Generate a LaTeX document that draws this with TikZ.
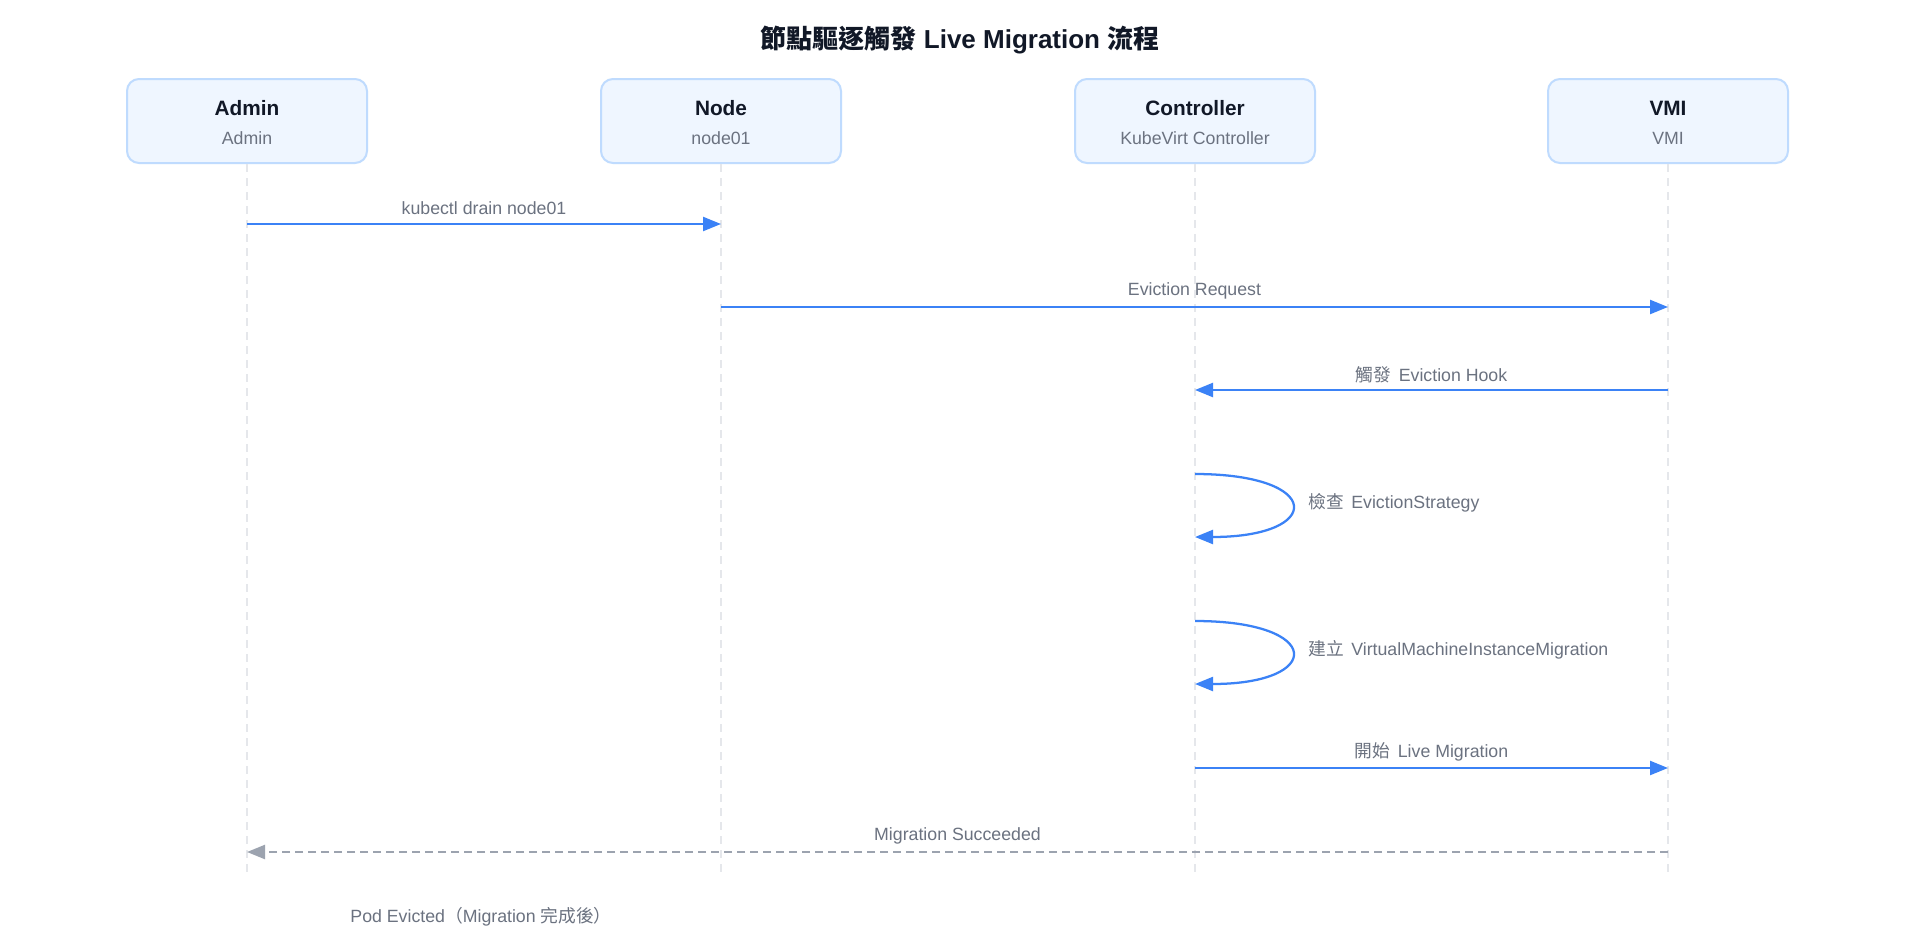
\documentclass[tikz,border=0pt]{standalone}
\usepackage{fontspec}
\setmainfont{Liberation Sans}
\newfontfamily\cjk{Noto Sans CJK TC}
\usetikzlibrary{arrows.meta}
\definecolor{boxfill}{HTML}{EFF6FF}
\definecolor{boxline}{HTML}{BFDBFE}
\definecolor{ink}{HTML}{111827}
\definecolor{muted}{HTML}{6B7280}
\definecolor{msgblue}{HTML}{3B82F6}
\definecolor{lifegray}{HTML}{E5E7EB}
\definecolor{retgray}{HTML}{9CA3AF}
\newcommand{\cjksp}{\hspace{2pt}}
\tikzset{
  participant/.style={draw=boxline, fill=boxfill, line width=1.5pt, rounded corners=9pt,
    minimum width=180pt, minimum height=63pt, inner sep=0pt},
  pname/.style={font=\fontsize{15.6pt}{18pt}\selectfont\bfseries, text=ink, inner sep=0pt},
  psub/.style={font=\fontsize{13.3pt}{15pt}\selectfont, text=muted, inner sep=0pt},
  lifeline/.style={draw=lifegray, line width=1.5pt, dash pattern=on 6pt off 4.5pt},
  msgarrow/.style={draw=msgblue, line width=1.7pt, -{Triangle[length=13.5pt,width=10.5pt]}},
  retarrow/.style={draw=retgray, line width=1.7pt, dash pattern=on 6pt off 3.75pt,
    -{Triangle[length=13.5pt,width=10.5pt]}},
  msglabel/.style={font=\fontsize{13.3pt}{15pt}\selectfont, text=muted, inner sep=0pt},
  titletext/.style={font=\fontsize{19.5pt}{23pt}\selectfont\bfseries, text=ink, inner sep=0pt}
}
\begin{document}
\begin{tikzpicture}[x=0.75pt,y=-0.75pt]
\useasboundingbox[fill=white] (0,0) rectangle (1920,928);

\node[titletext] (title) at (960,40) {{\cjk\bfseries 節點驅逐觸發} Live Migration {\cjk\bfseries 流程}};

% participants
\node[participant] (admin) at (247,121) {};
\node[participant] (node) at (721,121) {};
\node[participant] (ctrl) at (1195,121) {};
\node[participant] (vmi) at (1668,121) {};

\node[pname] (adminname) at (247,108) {Admin};
\node[psub] (adminsub) at (247,138) {Admin};
\node[pname] (nodename) at (721,108) {Node};
\node[psub] (nodesub) at (721,138) {node01};
\node[pname] (ctrlname) at (1195,108) {Controller};
\node[psub] (ctrlsub) at (1195,138) {KubeVirt Controller};
\node[pname] (vminame) at (1668,108) {VMI};
\node[psub] (vmisub) at (1668,138) {VMI};

% lifelines
\coordinate (adminend) at (247,877);
\coordinate (nodeend) at (721,877);
\coordinate (ctrlend) at (1195,877);
\coordinate (vmiend) at (1668,877);
\draw[lifeline] (admin.south) -- (adminend);
\draw[lifeline] (node.south) -- (nodeend);
\draw[lifeline] (ctrl.south) -- (ctrlend);
\draw[lifeline] (vmi.south) -- (vmiend);

% message endpoints
\coordinate (m1a) at (247,224);  \coordinate (m1b) at (721,224);
\coordinate (m2a) at (721,307);  \coordinate (m2b) at (1668,307);
\coordinate (m3a) at (1668,390); \coordinate (m3b) at (1195,390);
\coordinate (m4a) at (1195,474); \coordinate (m4b) at (1195,537);
\coordinate (m5a) at (1195,621); \coordinate (m5b) at (1195,684);
\coordinate (m6a) at (1195,768); \coordinate (m6b) at (1668,768);
\coordinate (m7a) at (1668,852); \coordinate (m7b) at (247,852);

\draw[msgarrow] (m1a) -- (m1b);
\node[msglabel] (l1) at (484,208) {kubectl drain node01};

\draw[msgarrow] (m2a) -- (m2b);
\node[msglabel] (l2) at (1194.5,291) {Eviction Request};

\draw[msgarrow] (m3a) -- (m3b);
\node[msglabel] (l3) at (1431.5,375) {{\cjk 觸發} \cjksp Eviction Hook};

\draw[msgarrow] (m4a) .. controls (1324,474) and (1324,537) .. (m4b);
\node[msglabel, anchor=west] (l4) at (1308,503) {{\cjk 檢查} \cjksp EvictionStrategy};

\draw[msgarrow] (m5a) .. controls (1324,621) and (1324,684) .. (m5b);
\node[msglabel, anchor=west] (l5) at (1308,650) {{\cjk 建立} \cjksp VirtualMachineInstanceMigration};

\draw[msgarrow] (m6a) -- (m6b);
\node[msglabel] (l6) at (1431.5,752) {{\cjk 開始} \cjksp Live Migration};

\draw[retarrow] (m7a) -- (m7b);
\node[msglabel] (l7) at (957.5,836) {Migration Succeeded};

\node[msglabel] (l8) at (481,917) {Pod Evicted{\cjk （}Migration {\cjk 完成後）}};
\end{tikzpicture}
\end{document}
